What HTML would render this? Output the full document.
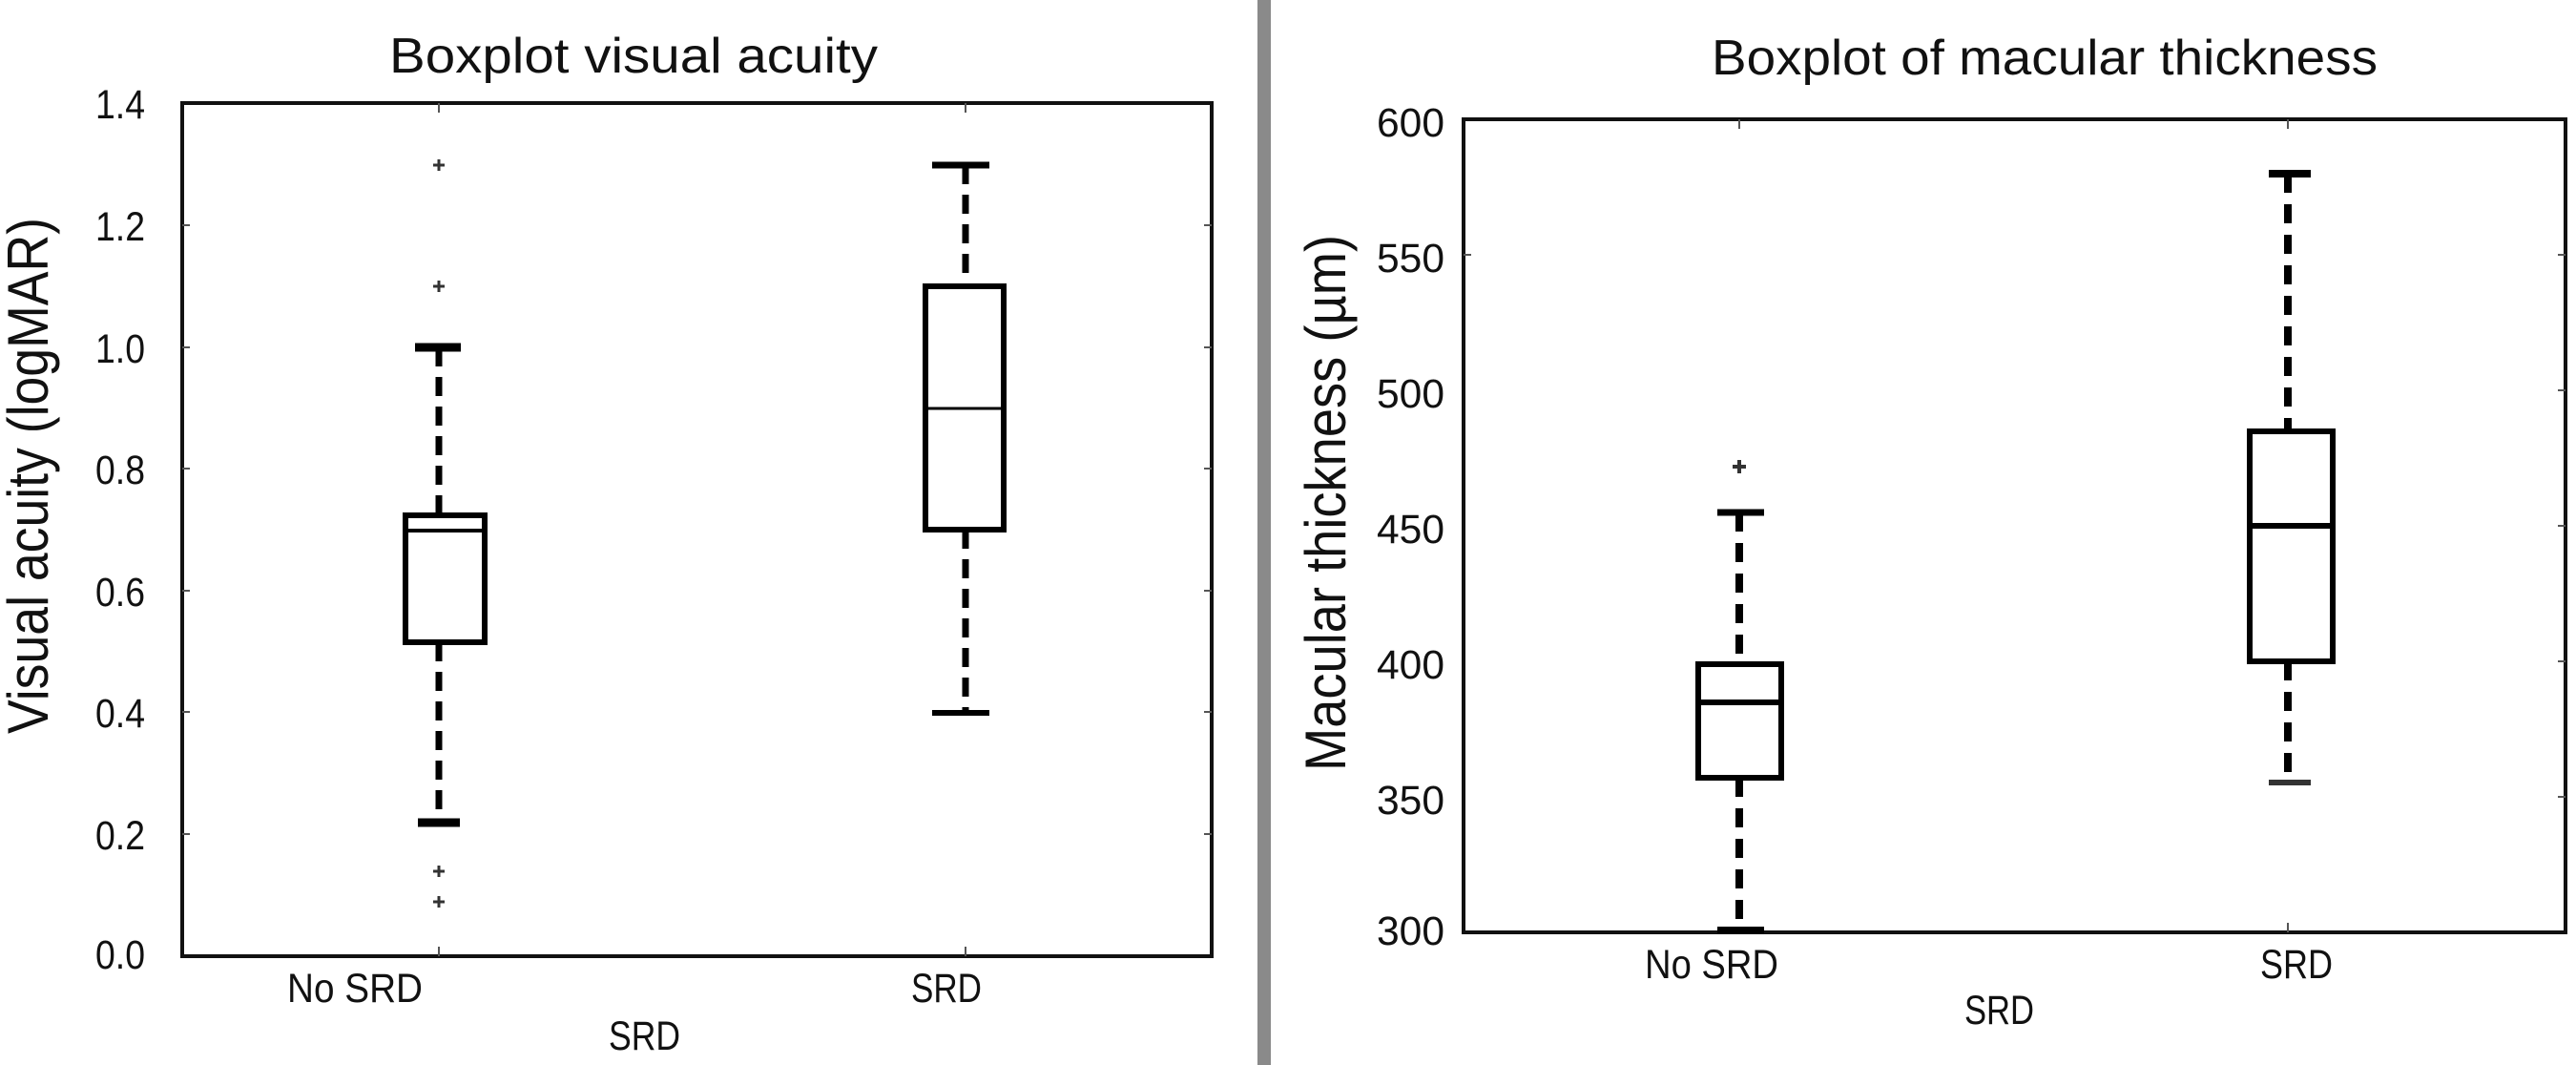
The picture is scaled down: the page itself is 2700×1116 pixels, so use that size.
<!DOCTYPE html>
<html><head><meta charset="utf-8"><style>
html,body{margin:0;padding:0;background:#fff;width:2700px;height:1116px;overflow:hidden}
text{font-family:"Liberation Sans",sans-serif;fill:#111}
</style></head><body>
<svg width="2700" height="1116" viewBox="0 0 2700 1116" xmlns="http://www.w3.org/2000/svg">
<rect x="1318" y="0" width="14" height="1116" fill="#8a8a8a"/>

<!-- LEFT CHART -->
<text x="408" y="76" font-size="52" textLength="512" lengthAdjust="spacingAndGlyphs">Boxplot visual acuity</text>
<rect x="191" y="108" width="1079" height="894" fill="none" stroke="#111" stroke-width="4"/>
<g stroke="#555" stroke-width="2">
<line x1="191" y1="236" x2="199" y2="236"/><line x1="191" y1="364" x2="199" y2="364"/><line x1="191" y1="491" x2="199" y2="491"/><line x1="191" y1="619" x2="199" y2="619"/><line x1="191" y1="746" x2="199" y2="746"/><line x1="191" y1="874" x2="199" y2="874"/>
<line x1="1270" y1="236" x2="1262" y2="236"/><line x1="1270" y1="364" x2="1262" y2="364"/><line x1="1270" y1="491" x2="1262" y2="491"/><line x1="1270" y1="619" x2="1262" y2="619"/><line x1="1270" y1="746" x2="1262" y2="746"/><line x1="1270" y1="874" x2="1262" y2="874"/>
<line x1="460" y1="108" x2="460" y2="118"/><line x1="1012" y1="108" x2="1012" y2="118"/><line x1="460" y1="1002" x2="460" y2="992"/><line x1="1012" y1="1002" x2="1012" y2="992"/>
</g>
<g font-size="43" text-anchor="end">
<text x="152" y="124" textLength="52" lengthAdjust="spacingAndGlyphs">1.4</text>
<text x="152" y="252" textLength="52" lengthAdjust="spacingAndGlyphs">1.2</text>
<text x="152" y="380" textLength="52" lengthAdjust="spacingAndGlyphs">1.0</text>
<text x="152" y="507" textLength="52" lengthAdjust="spacingAndGlyphs">0.8</text>
<text x="152" y="635" textLength="52" lengthAdjust="spacingAndGlyphs">0.6</text>
<text x="152" y="762" textLength="52" lengthAdjust="spacingAndGlyphs">0.4</text>
<text x="152" y="890" textLength="52" lengthAdjust="spacingAndGlyphs">0.2</text>
<text x="152" y="1015" textLength="52" lengthAdjust="spacingAndGlyphs">0.0</text>
</g>
<text transform="translate(50,769) rotate(-90)" font-size="60" textLength="541" lengthAdjust="spacingAndGlyphs">Visual acuity (logMAR)</text>
<text x="301" y="1050" font-size="43" textLength="142" lengthAdjust="spacingAndGlyphs">No SRD</text>
<text x="955" y="1050" font-size="43" textLength="74" lengthAdjust="spacingAndGlyphs">SRD</text>
<text x="638" y="1100" font-size="43" textLength="75" lengthAdjust="spacingAndGlyphs">SRD</text>
<g stroke="#000" fill="none">
<line x1="460" y1="364" x2="460" y2="540" stroke-width="7" stroke-dasharray="20,11"/>
<line x1="460" y1="673" x2="460" y2="862" stroke-width="7" stroke-dasharray="20,11"/>
<line x1="435" y1="364" x2="483" y2="364" stroke-width="9"/>
<line x1="438" y1="862" x2="482" y2="862" stroke-width="9"/>
<rect x="425" y="540" width="83" height="133" stroke-width="6"/>
<line x1="425" y1="556" x2="508" y2="556" stroke-width="4"/>
<line x1="1012" y1="173" x2="1012" y2="300" stroke-width="7" stroke-dasharray="20,11"/>
<line x1="1012" y1="555" x2="1012" y2="747" stroke-width="7" stroke-dasharray="20,11"/>
<line x1="977" y1="173" x2="1037" y2="173" stroke-width="7"/>
<line x1="977" y1="747" x2="1037" y2="747" stroke-width="6"/>
<rect x="970" y="300" width="82" height="255" stroke-width="6"/>
<line x1="970" y1="428" x2="1052" y2="428" stroke-width="3"/>
</g>
<g stroke="#333" stroke-width="3">
<path d="M454 173h12M460 167v12"/><path d="M454 300h12M460 294v12"/><path d="M454 913h12M460 907v12"/><path d="M454 945h12M460 939v12"/>
</g>

<!-- RIGHT CHART -->
<text x="1794" y="78" font-size="52" textLength="698" lengthAdjust="spacingAndGlyphs">Boxplot of macular thickness</text>
<rect x="1534" y="125" width="1155" height="852" fill="none" stroke="#111" stroke-width="4"/>
<g stroke="#555" stroke-width="2">
<line x1="2689" y1="267" x2="2681" y2="267"/><line x1="2689" y1="409" x2="2681" y2="409"/><line x1="2689" y1="551" x2="2681" y2="551"/><line x1="2689" y1="693" x2="2681" y2="693"/><line x1="2689" y1="835" x2="2681" y2="835"/>
<line x1="1534" y1="267" x2="1542" y2="267"/>
<line x1="1823" y1="125" x2="1823" y2="135"/><line x1="2398" y1="125" x2="2398" y2="135"/><line x1="2398" y1="977" x2="2398" y2="967"/>
</g>
<g font-size="43" text-anchor="end">
<text x="1514" y="143" textLength="71" lengthAdjust="spacingAndGlyphs">600</text>
<text x="1514" y="285" textLength="71" lengthAdjust="spacingAndGlyphs">550</text>
<text x="1514" y="427" textLength="71" lengthAdjust="spacingAndGlyphs">500</text>
<text x="1514" y="569" textLength="71" lengthAdjust="spacingAndGlyphs">450</text>
<text x="1514" y="711" textLength="71" lengthAdjust="spacingAndGlyphs">400</text>
<text x="1514" y="853" textLength="71" lengthAdjust="spacingAndGlyphs">350</text>
<text x="1514" y="990" textLength="71" lengthAdjust="spacingAndGlyphs">300</text>
</g>
<text transform="translate(1410,808) rotate(-90)" font-size="60" textLength="562" lengthAdjust="spacingAndGlyphs">Macular thickness (µm)</text>
<text x="1724" y="1025" font-size="43" textLength="140" lengthAdjust="spacingAndGlyphs">No SRD</text>
<text x="2369" y="1025" font-size="43" textLength="76" lengthAdjust="spacingAndGlyphs">SRD</text>
<text x="2059" y="1073" font-size="43" textLength="73" lengthAdjust="spacingAndGlyphs">SRD</text>
<g stroke="#000" fill="none">
<line x1="1823" y1="537" x2="1823" y2="696" stroke-width="8" stroke-dasharray="20,12"/>
<line x1="1823" y1="815" x2="1823" y2="975" stroke-width="8" stroke-dasharray="20,12"/>
<line x1="1800" y1="537" x2="1849" y2="537" stroke-width="7"/>
<line x1="1800" y1="975" x2="1849" y2="975" stroke-width="8"/>
<rect x="1780" y="696" width="87" height="119" stroke-width="6"/>
<line x1="1780" y1="736" x2="1867" y2="736" stroke-width="6"/>
<line x1="2398" y1="182" x2="2398" y2="452" stroke-width="8" stroke-dasharray="20,12"/>
<line x1="2398" y1="693" x2="2398" y2="820" stroke-width="8" stroke-dasharray="20,12"/>
<line x1="2378" y1="182" x2="2422" y2="182" stroke-width="8"/>
<line x1="2378" y1="820" x2="2422" y2="820" stroke-width="6" stroke="#333"/>
<rect x="2358" y="452" width="87" height="241" stroke-width="6"/>
<line x1="2358" y1="551" x2="2445" y2="551" stroke-width="6"/>
</g>
<path d="M1816 489h14M1823 482v14" stroke="#333" stroke-width="4"/>
</svg>
</body></html>
